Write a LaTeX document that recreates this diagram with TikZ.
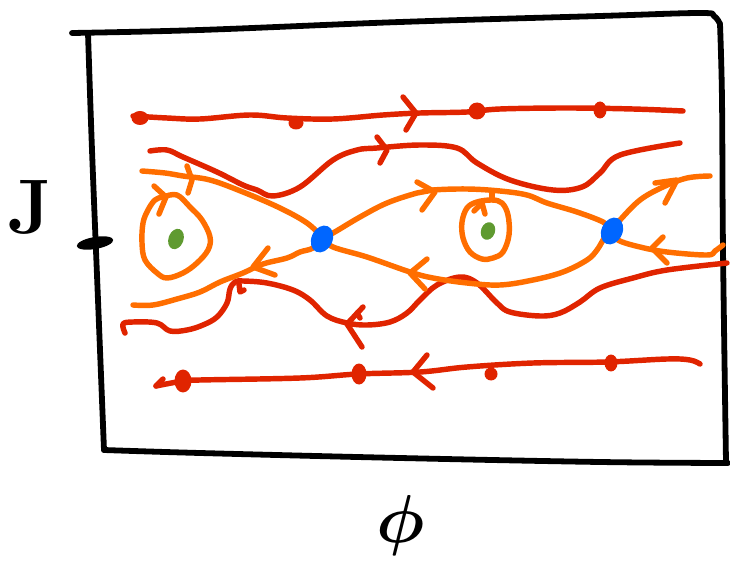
\documentclass[tikz,border=0pt]{standalone}
\usepackage{tikz}
\definecolor{myred}{HTML}{E02400}
\definecolor{myorange}{HTML}{FF6E00}
\definecolor{myblue}{HTML}{0066FF}
\definecolor{mygreen}{HTML}{5F9A30}
\begin{document}
\begin{tikzpicture}[x=0.02cm,y=-0.02cm,line cap=round,line join=round,
  boxline/.style={line width=3.3pt,black},
  rline/.style={line width=3.1pt,myred},
  oline/.style={line width=3.1pt,myorange},
  sm/.style={smooth,tension=0.6}]
\useasboundingbox (0,0) rectangle (730,564);
% frame
\draw[boxline] plot[sm] coordinates {(72,33) (200,30) (400,22) (600,16) (700,13) (714,16) (720,24)};
\draw[boxline] plot[sm] coordinates {(720,24) (722,100) (723,250) (726,462)};
\draw[boxline] plot[sm] coordinates {(104,450) (200,453) (400,458) (600,462) (728,463)};
\draw[boxline] plot[sm] coordinates {(88,33) (92,150) (98,300) (104,450)};
\fill[black,rotate around={10:(95,243)}] (95,243) ellipse [x radius=0.37cm, y radius=0.12cm];
% labels
\node[font=\fontsize{44}{48}\selectfont\bfseries] (J) at (30,207) {J};
\node[font=\Huge\boldmath,scale=1.55] (phi) at (401,526) {$\phi$};
% red top line
\draw[rline] plot[sm] coordinates {(133,116) (167,118) (200,119) (250,115) (287,118) (333,119) (383,115) (420,113) (467,112) (500,109) (567,108) (633,109) (683,111)};
\draw[rline] (403,97) -- (416,113) -- (406,130);
\fill[myred] (140,118) ellipse [x radius=0.17cm, y radius=0.14cm];
\fill[myred] (296,123) ellipse [x radius=0.15cm, y radius=0.13cm];
\fill[myred] (477,111) ellipse [x radius=0.17cm, y radius=0.17cm];
\fill[myred] (600,110) ellipse [x radius=0.13cm, y radius=0.17cm];
% red second curve
\draw[rline] plot[sm] coordinates {(150,151) (167,150) (183,157) (217,172) (243,185) (257,190) (273,196) (300,187) (333,160) (357,150) (377,148) (420,145) (457,148) (477,163) (510,180) (553,190) (582,187) (600,173) (620,155) (680,143)};
\draw[rline] (377,137) -- (387,150) -- (380,163);
% red lower wiggly curve
\draw[rline] plot[sm] coordinates {(125,333) (123,324) (133,322) (157,323) (170,331) (187,330) (203,325) (217,317) (227,303) (230,289) (235,282) (243,281) (267,283) (293,290) (310,300) (327,316) (347,323) (367,325) (390,322) (407,313) (420,300) (437,285) (460,277) (477,283) (497,303) (510,312) (540,316) (560,313) (580,302) (600,288) (633,278) (667,270) (727,263)};
\draw[rline] (239,284) -- (240,292) -- (244,290);
\draw[rline] (363,307) -- (347,324) -- (362,347);
\draw[rline] (357,313) -- (360,318);
% red bottom line
\draw[rline] plot[sm] coordinates {(156,386) (183,381) (200,380) (300,378) (358,374) (420,372) (467,367) (533,363) (607,362) (667,359) (690,360) (700,364)};
\draw[rline] (163,379) -- (156,386);
\draw[rline] (427,355) -- (413,372) -- (433,388);
\fill[myred] (183,381) ellipse [x radius=0.17cm, y radius=0.23cm];
\fill[myred] (359,374) ellipse [x radius=0.15cm, y radius=0.21cm];
\fill[myred] (491,374) ellipse [x radius=0.13cm, y radius=0.13cm];
\fill[myred] (611,363) ellipse [x radius=0.13cm, y radius=0.17cm];
% orange separatrices
\draw[oline] plot[sm] coordinates {(142,171) (165,173) (183,176) (210,180) (243,192) (280,208) (307,223) (322,237)};
\draw[oline] (187,166) -- (192,180) -- (188,193);
\draw[oline] plot[sm] coordinates {(322,238) (333,233) (360,217) (387,203) (417,193) (433,190) (467,189) (500,191) (527,195) (547,203) (577,212) (603,222) (612,230)};
\draw[oline] (417,182) -- (435,192) -- (422,210);
\draw[oline] plot[sm] coordinates {(322,238) (333,247) (367,257) (410,272) (433,278) (467,283) (500,285) (533,280) (563,272) (587,260) (597,250) (605,237) (612,230)};
\draw[oline] (427,259) -- (410,273) -- (425,289);
\draw[oline] plot[sm] coordinates {(322,238) (313,248) (300,252) (287,258) (263,264) (243,273) (220,282) (200,292) (177,299) (153,305) (133,305)};
\draw[oline] (268,248) -- (253,267) -- (275,275);
\draw[oline] plot[sm] coordinates {(612,230) (620,220) (640,200) (663,187) (687,178) (710,176)};
\draw[oline] (655,183) -- (677,180) -- (665,203);
\draw[oline] plot[sm] coordinates {(612,230) (618,240) (640,247) (667,252) (707,255) (715,251) (723,245)};
\draw[oline] (663,237) -- (652,248) -- (667,263);
% orbits
\draw[oline] plot[smooth cycle,tension=0.6] coordinates {(163,197) (177,195) (190,207) (202,220) (210,237) (208,250) (197,263) (183,273) (167,278) (157,273) (145,260) (142,243) (143,223) (148,210) (155,200)};
\draw[oline] (154,186) -- (166,197) -- (159,214);
\draw[oline] plot[smooth cycle,tension=0.6] coordinates {(492,200) (502,203) (508,215) (509,235) (503,252) (493,258) (482,259) (470,252) (463,238) (462,222) (467,208) (477,202)};
\draw[oline] (474,211) -- (482,203) -- (485,214);
\draw[oline] (492,199) -- (492,191);
% fixed points
\fill[mygreen,rotate around={-20:(176,239)}] (176,239) ellipse [x radius=0.15cm, y radius=0.21cm];
\fill[mygreen,rotate around={-20:(488,231)}] (488,231) ellipse [x radius=0.14cm, y radius=0.18cm];
\fill[myblue,rotate around={-25:(322,239)}] (322,239) ellipse [x radius=0.21cm, y radius=0.28cm];
\fill[myblue,rotate around={-25:(612,231)}] (612,231) ellipse [x radius=0.21cm, y radius=0.28cm];
\end{tikzpicture}
\end{document}
